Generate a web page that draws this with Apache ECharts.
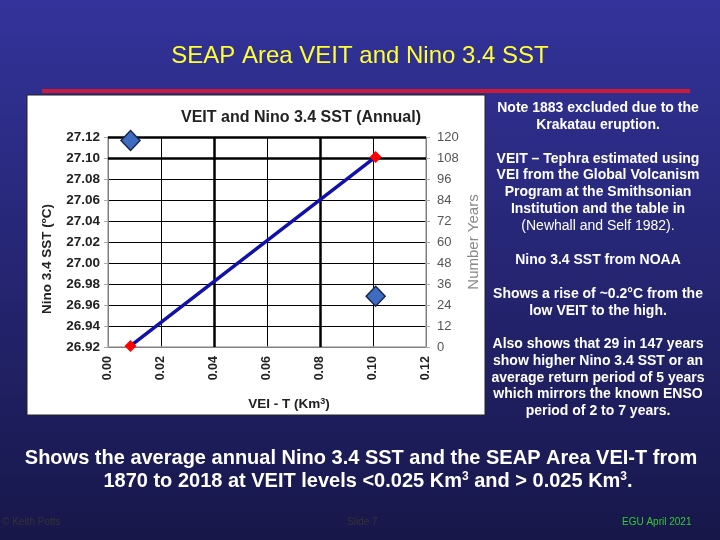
<!DOCTYPE html>
<html><head><meta charset="utf-8">
<script src="https://cdn.jsdelivr.net/npm/echarts@6/dist/echarts.min.js"></script>
<style>html,body{margin:0;padding:0;}#c{width:720px;height:540px;}</style>
</head><body><div id="c"></div>
<script>
// Data
var veit = [0.0085, 0.101];          // VEI-T (Km3) groups: low / high
var sst = [26.921, 27.101];          // mean Nino 3.4 SST (°C)
var years = [118, 29];               // number of years in each group
var sideText = [
  ['Note 1883 excluded due to the', true],
  ['Krakatau eruption.', true],
  ['', true],
  ['VEIT \u2013 Tephra estimated using', true],
  ['VEI from the Global Volcanism', true],
  ['Program at the Smithsonian', true],
  ['Institution and the table in', true],
  ['(Newhall and Self 1982).', false],
  ['', true],
  ['Nino 3.4 SST from NOAA', true]
];
var sideText2 = [
  'Shows a rise of ~0.2\u00b0C from the',
  'low VEIT to the high.',
  '',
  'Also shows that 29 in 147 years',
  'show higher Nino 3.4 SST or an',
  'average return period of 5 years',
  'which mirrors the known ENSO',
  'period of 2 to 7 years.'
];

var F = 'Liberation Sans, Arial, sans-serif';
var chart = echarts.init(document.getElementById('c'));
var graphics = [
  {type:'rect', shape:{x:27,y:95,width:458,height:320}, style:{fill:'#ffffff', stroke:'#222', lineWidth:1}, z:-10},
  {type:'rect', shape:{x:42,y:89,width:648,height:4}, style:{fill:'#cc1a3a'}, z:-5},
  {type:'text', x:360, y:56, style:{text:'SEAP Area VEIT and Nino 3.4 SST', fill:'#ffff33', font:'24px '+F, textAlign:'center', textVerticalAlign:'middle'}},
  {type:'text', x:301, y:118, style:{text:'VEIT and Nino 3.4 SST (Annual)', fill:'#222', font:'bold 16px '+F, textAlign:'center', textVerticalAlign:'middle'}},
  {type:'text', x:361, y:458, style:{text:'Shows the average annual Nino 3.4 SST and the SEAP Area VEI-T from', fill:'#fff', font:'bold 20px '+F, textAlign:'center', textVerticalAlign:'middle'}},
  {type:'text', x:368, y:481, style:{
     text:'{a|1870 to 2018 at VEIT levels <0.025 Km}{s|3}{a| and > 0.025 Km}{s|3}{a|.}',
     textAlign:'center', textVerticalAlign:'middle',
     rich:{a:{fill:'#fff', font:'bold 20px '+F}, s:{fill:'#fff', font:'bold 12px '+F, verticalAlign:'top', padding:[0,0,8,0]}}}},
  {type:'text', x:2, y:522, style:{text:'\u00a9 Keith Potts', fill:'#333', font:'10px '+F, textVerticalAlign:'middle'}},
  {type:'text', x:347, y:522, style:{text:'Slide 7', fill:'#333', font:'10px '+F, textVerticalAlign:'middle'}},
  {type:'text', x:622, y:522, style:{text:'EGU April 2021', fill:'#33cc33', font:'10px '+F, textVerticalAlign:'middle'}}
];
var y0 = 108;
sideText.forEach(function(t, i){
  if (!t[0]) return;
  graphics.push({type:'text', x:598, y:y0 + i*16.9, style:{text:t[0], fill:'#fff', font:(t[1]?'bold ':'')+'14px '+F, textAlign:'center', textVerticalAlign:'middle'}});
});
var y1 = 294;
sideText2.forEach(function(t, i){
  if (!t) return;
  graphics.push({type:'text', x:598, y:y1 + i*16.75, style:{text:t, fill:'#fff', font:'bold 14px '+F, textAlign:'center', textVerticalAlign:'middle'}});
});

var option = {
  animation:false,
  backgroundColor:{type:'linear', x:0, y:0, x2:0, y2:1, colorStops:[{offset:0,color:'#33339b'},{offset:1,color:'#17174a'}]},
  graphic: graphics,
  grid:{left:108, right:294, top:137, bottom:193, containLabel:false},
  xAxis:{type:'value', min:0, max:0.12, interval:0.02,
    name:'{a|VEI - T (Km}{s|3}{a|)}', nameLocation:'middle', nameGap:50,
    nameTextStyle:{padding:[0,0,0,44], rich:{a:{fontFamily:F, fontWeight:'bold', fontSize:13.5, color:'#222'}, s:{fontFamily:F, fontWeight:'bold', fontSize:9, color:'#222', verticalAlign:'top', padding:[0,0,6,0]}}},
    axisLine:{lineStyle:{color:'#aaa', width:1.5}}, axisTick:{show:false},
    axisLabel:{rotate:90, fontFamily:F, fontWeight:'bold', fontSize:12.5, color:'#222', margin:9, formatter:function(v){return v.toFixed(2);}},
    splitLine:{show:true, lineStyle:{color:'#000', width:1}}},
  yAxis:[
    {type:'value', min:26.92, max:27.12, interval:0.02,
     name:'Nino 3.4 SST (\u00baC)', nameLocation:'middle', nameGap:54, nameRotate:90,
     nameTextStyle:{fontFamily:F, fontWeight:'bold', fontSize:13.5, color:'#222', padding:[0,34,0,0]},
     axisLine:{show:true, lineStyle:{color:'#aaa', width:1.5}}, axisTick:{show:true, length:4, lineStyle:{color:'#aaa'}},
     axisLabel:{fontFamily:F, fontWeight:'bold', fontSize:13.5, color:'#222', margin:8, formatter:function(v){return v.toFixed(2);}},
     splitLine:{show:true, lineStyle:{color:'#000', width:1}}},
    {type:'value', min:0, max:120, interval:12, position:'right',
     name:'Number Years', nameLocation:'middle', nameGap:40, nameRotate:90,
     nameTextStyle:{fontFamily:F, fontSize:15, color:'#888'},
     axisLine:{show:true, lineStyle:{color:'#aaa', width:1.5}}, axisTick:{show:true, length:4, lineStyle:{color:'#aaa'}},
     axisLabel:{fontFamily:F, fontSize:13, color:'#555', margin:11},
     splitLine:{show:false}}
  ],
  series:[
    {type:'line', data:veit.map(function(v,i){return [v, sst[i]];}),
     symbol:'diamond', symbolSize:12, itemStyle:{color:'#ff0000'},
     lineStyle:{color:'#1010aa', width:3.5}, z:5,
     markLine:{silent:true, symbol:'none', label:{show:false}, animation:false,
       lineStyle:{color:'#000', width:2.5, type:'solid'},
       data:[{xAxis:0.04},{xAxis:0.08},{yAxis:27.10},{yAxis:27.12}]}},
    {type:'scatter', yAxisIndex:1, data:veit.map(function(v,i){return [v, years[i]];}),
     symbol:'diamond', symbolSize:[19,20], itemStyle:{color:'#3f6cc0', borderColor:'#16264a', borderWidth:1.5, opacity:1}, z:6}
  ]
};
chart.setOption(option);
</script></body></html>
